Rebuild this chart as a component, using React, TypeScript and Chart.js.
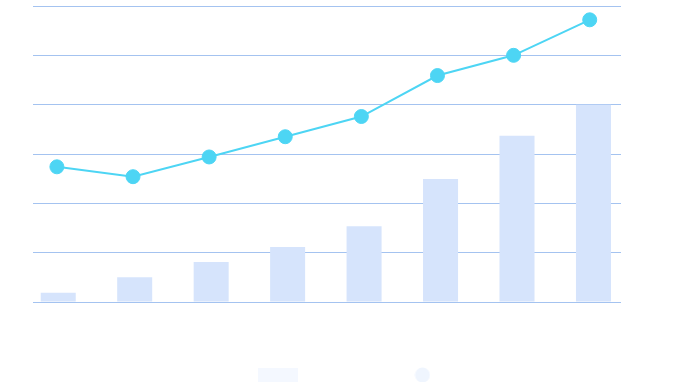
import React, { useEffect, useRef } from 'react';
import { Chart, registerables } from 'chart.js';

Chart.register(...registerables);

const categories = ['一月', '二月', '三月', '四月', '五月', '六月', '七月', '八月'];
const barValues = [3.8, 10.0, 16.2, 22.3, 30.7, 49.9, 67.4, 80.0];
const lineValues = [27.4, 25.4, 29.4, 33.5, 37.6, 45.9, 50.0, 57.2];
const barLabel = '销量';
const lineLabel = '增长率';
const yMax = 120;
const yStep = 20;
const y1Max = 60;
const y1Step = 10;

const BAR_COLOR = '#d6e4fc';
const LINE_COLOR = '#4dd5f4';
const GRID_COLOR = '#a4c3f0';

function makeRectIcon(): HTMLCanvasElement {
  const c = document.createElement('canvas');
  c.width = 40;
  c.height = 14;
  const ctx = c.getContext('2d')!;
  ctx.fillStyle = '#f4f8ff';
  ctx.fillRect(0, 0, 40, 14);
  return c;
}

function makeCircleIcon(): HTMLCanvasElement {
  const c = document.createElement('canvas');
  c.width = 16;
  c.height = 16;
  const ctx = c.getContext('2d')!;
  ctx.fillStyle = '#eff5fe';
  ctx.beginPath();
  ctx.arc(8, 8, 7.5, 0, Math.PI * 2);
  ctx.fill();
  return c;
}

export default function App() {
  const ref = useRef<HTMLCanvasElement | null>(null);

  useEffect(() => {
    if (!ref.current) return;
    const rectIcon = makeRectIcon();
    const circleIcon = makeCircleIcon();
    const chart = new Chart(ref.current, {
      type: 'bar',
      data: {
        labels: categories,
        datasets: [
          {
            type: 'bar',
            label: barLabel,
            data: barValues.map((v, i) => ({ x: i, y: v })),
            backgroundColor: BAR_COLOR,
            borderWidth: 0,
            grouped: false,
            categoryPercentage: 1,
            barPercentage: 0.458,
            xAxisID: 'x',
            yAxisID: 'y',
            order: 2,
          },
          {
            type: 'line',
            label: lineLabel,
            data: lineValues.map((v, i) => ({ x: i, y: v })),
            borderColor: LINE_COLOR,
            backgroundColor: LINE_COLOR,
            borderWidth: 2,
            pointRadius: 7,
            pointBorderWidth: 1,
            pointBackgroundColor: LINE_COLOR,
            pointBorderColor: LINE_COLOR,
            tension: 0,
            clip: false,
            xAxisID: 'x2',
            yAxisID: 'y1',
            order: 1,
          } as any,
        ],
      },
      options: {
        animation: false,
        responsive: true,
        maintainAspectRatio: false,
        layout: { autoPadding: false, padding: { top: 6, left: 0, right: 14.3, bottom: 0 } },
        plugins: {
          tooltip: { enabled: false },
          legend: {
            display: true,
            position: 'bottom',
            rtl: true,
            reverse: true,
            labels: {
              usePointStyle: true,
              pointStyleWidth: 40,
              boxHeight: 14,
              padding: 55.3,
              color: '#ffffff',
              font: { size: 14, family: "'Noto Sans CJK SC', sans-serif" },
              generateLabels: () => [
                {
                  text: barLabel,
                  fillStyle: '#f4f8ff',
                  strokeStyle: '#f4f8ff',
                  lineWidth: 0,
                  pointStyle: rectIcon as any,
                  hidden: false,
                  datasetIndex: 0,
                  fontColor: '#ffffff',
                },
                {
                  text: lineLabel,
                  fillStyle: '#eff5fe',
                  strokeStyle: '#eff5fe',
                  lineWidth: 0,
                  pointStyle: circleIcon as any,
                  hidden: false,
                  datasetIndex: 1,
                  fontColor: '#ffffff',
                },
              ],
            },
          },
        },
        scales: {
          x: {
            type: 'linear',
            min: -0.33,
            max: 7.36,
            offset: false,
            grid: { display: false },
            border: { display: false },
            ticks: { display: false },
            afterFit: (s: any) => { s.height = 10.7; },
          },
          x2: {
            type: 'linear',
            display: false,
            min: -0.314,
            max: 7.411,
            offset: false,
          },
          y: {
            type: 'linear',
            position: 'left',
            min: 0,
            max: yMax,
            ticks: { display: false, stepSize: yStep },
            grid: { color: GRID_COLOR, lineWidth: 1, drawTicks: false },
            border: { display: false },
            afterFit: (s: any) => { s.width = 33; },
          },
          y1: {
            type: 'linear',
            position: 'right',
            min: 0,
            max: y1Max,
            ticks: { display: false, stepSize: y1Step },
            grid: { display: false },
            border: { display: false },
            afterFit: (s: any) => { s.width = 44.7; },
          },
        },
      } as any,
    });
    return () => chart.destroy();
  }, []);

  return (
    <div style={{ position: 'fixed', left: 0, top: 0, width: 680, height: 382, overflow: 'hidden', background: '#ffffff' }}>
      <div style={{ position: 'relative', width: 680, height: 392 }}>
        <canvas ref={ref} />
      </div>
    </div>
  );
}
